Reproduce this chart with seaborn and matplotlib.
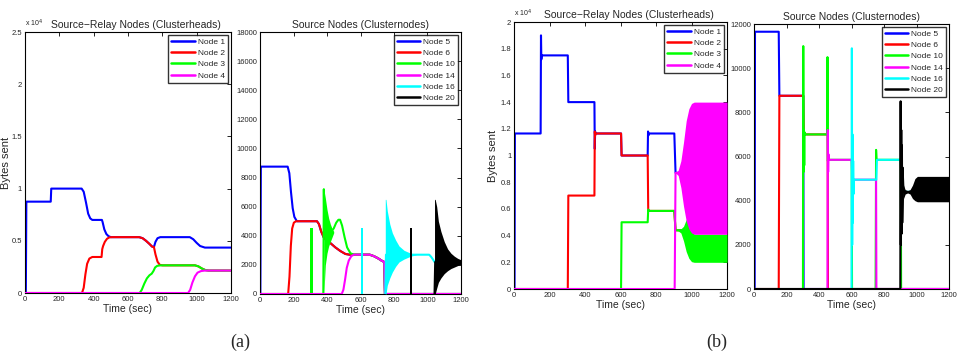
import matplotlib
matplotlib.use('Agg')
import matplotlib.pyplot as plt
import seaborn as sns
from matplotlib.ticker import FuncFormatter, MultipleLocator

sns.set_theme(style="white")
plt.rcParams['font.family'] = ['Liberation Sans', 'DejaVu Sans']

COLORS = {
    'Node 1': '#0000ff', 'Node 2': '#ff0000', 'Node 3': '#00ff00', 'Node 4': '#ff00ff',
    'Node 5': '#0000ff', 'Node 6': '#ff0000', 'Node 10': '#00ff00', 'Node 14': '#ff00ff',
    'Node 16': '#00ffff', 'Node 20': '#000000',
}
LW = 1.5

# ---------------- (a) left: source-relay nodes ----------------
a1_n1_t = [0, 5, 8, 150, 153, 330, 342, 355, 368, 380, 392, 448, 452, 462, 474, 486, 500, 665, 685, 705, 725, 740, 751, 760, 772, 788, 960, 980, 1000, 1020, 1048, 1200]
a1_n1_v = [0, 0, 8750, 8750, 10000, 10000, 9700, 8700, 7600, 7150, 7000, 7000, 6800, 6100, 5650, 5450, 5350, 5350, 5250, 5000, 4700, 4450, 4400, 4900, 5250, 5350, 5350, 5150, 4800, 4500, 4350, 4350]
a1_n2_t = [0, 332, 342, 352, 362, 375, 392, 446, 450, 455, 465, 478, 492, 505, 665, 685, 705, 725, 740, 751, 760, 772, 785, 800, 990, 1010, 1030, 1050, 1070, 1200]
a1_n2_v = [0, 0, 500, 1800, 2800, 3300, 3450, 3450, 4200, 4500, 4900, 5200, 5330, 5350, 5350, 5250, 5000, 4700, 4450, 4400, 3700, 3000, 2700, 2650, 2650, 2550, 2350, 2200, 2150, 2150]
a1_n3_t = [0, 668, 680, 695, 710, 725, 738, 748, 758, 770, 790, 990, 1010, 1030, 1050, 1070, 1200]
a1_n3_v = [0, 0, 300, 900, 1400, 1700, 1850, 2100, 2450, 2600, 2650, 2650, 2550, 2350, 2200, 2150, 2150]
a1_n4_t = [0, 950, 962, 975, 990, 1005, 1025, 1048, 1200]
a1_n4_v = [0, 0, 300, 1000, 1600, 1950, 2100, 2150, 2150]

# ---------------- (a) right: source nodes ----------------
a2_n5_t = [0, 2, 5, 165, 175, 185, 195, 205, 220, 340, 352, 365, 380, 395, 420, 450, 480, 510, 535, 655, 680, 705, 725, 742, 746, 1200]
a2_n5_v = [0, 0, 8750, 8750, 8300, 7000, 5900, 5300, 5000, 5000, 4800, 4300, 3900, 3700, 3500, 3200, 2950, 2750, 2700, 2700, 2600, 2450, 2300, 2200, 0, 0]
a2_n6_t = [0, 168, 176, 184, 192, 202, 215, 340, 352, 365, 380, 395, 420, 450, 480, 510, 535, 655, 680, 705, 725, 742, 746, 1200]
a2_n6_v = [0, 0, 1200, 3300, 4500, 4900, 5000, 5000, 4800, 4300, 3900, 3700, 3500, 3200, 2950, 2750, 2700, 2700, 2600, 2450, 2300, 2200, 0, 0]
a2_n10_t = [0, 378, 381, 384, 425, 440, 455, 468, 478, 490, 505, 520, 540, 560, 655, 680, 705, 725, 742, 746, 1200]
a2_n10_v = [0, 0, 7200, 4000, 4300, 4500, 4900, 5100, 5100, 4700, 3900, 3200, 2800, 2700, 2700, 2600, 2450, 2300, 2200, 0, 0]
a2_n10_spike_t = [299, 315]
a2_n10_spike_hi = [4500, 4500]
a2_n10_osc_t = [381, 390, 400, 410, 420, 430, 440]
a2_n10_osc_hi = [7200, 6600, 5800, 5200, 4800, 4500, 4300]
a2_n10_osc_lo = [0, 2000, 2800, 3300, 3600, 3900, 4200]
a2_n14_t = [0, 488, 498, 508, 518, 530, 545, 560, 655, 680, 705, 725, 742, 746, 1200]
a2_n14_v = [0, 0, 300, 1000, 1800, 2300, 2600, 2700, 2700, 2600, 2450, 2300, 2200, 0, 0]
a2_n16_t = [748, 752, 935, 1010, 1022, 1034, 1042, 1046, 1200]
a2_n16_v = [0, 2700, 2700, 2700, 2550, 2350, 2200, 2200, 2200]
a2_n16_spike_t = [601, 615]
a2_n16_spike_hi = [4500, 4500]
a2_n16_osc_t = [748, 752, 760, 775, 790, 810, 830, 860, 900, 935]
a2_n16_osc_hi = [6500, 6500, 5700, 4800, 4200, 3700, 3300, 3000, 2800, 2700]
a2_n16_osc_lo = [0, 0, 600, 1100, 1500, 1900, 2200, 2400, 2600, 2700]
a2_n20_t = [1042, 1046, 1200]
a2_n20_v = [0, 2200, 2200]
a2_n20_spike_t = [896, 910]
a2_n20_spike_hi = [4500, 4500]
a2_n20_osc_t = [1042, 1046, 1055, 1065, 1080, 1100, 1120, 1140, 1160, 1180, 1200]
a2_n20_osc_hi = [6500, 6500, 6000, 5000, 4300, 3600, 3100, 2800, 2600, 2450, 2350]
a2_n20_osc_lo = [0, 0, 400, 800, 1100, 1400, 1600, 1750, 1850, 1950, 2050]

# ---------------- (b) left: source-relay nodes ----------------
b1_n1_t = [0, 3, 5, 150, 152, 154, 156, 303, 306, 453, 455, 457, 459, 603, 606, 753, 755, 757, 759, 903, 910, 1200]
b1_n1_v = [0, 0, 11650, 11650, 19000, 17200, 17500, 17500, 14000, 14000, 10500, 11800, 11650, 11650, 10000, 10000, 11800, 11500, 11650, 11650, 8700, 8700]
b1_n2_t = [0, 303, 306, 453, 455, 457, 459, 603, 606, 753, 756, 758, 760, 903, 910, 1200]
b1_n2_v = [0, 0, 7000, 7000, 11800, 11500, 11650, 11650, 10000, 10000, 6000, 5900, 5850, 5850, 4400, 4400]
b1_n3_t = [0, 603, 606, 753, 756, 758, 760, 903, 910, 1200]
b1_n3_v = [0, 0, 5000, 5000, 5950, 5900, 5850, 5850, 4400, 4400]
b1_n3_osc_t = [910, 925, 940, 955, 970, 985, 1000, 1015, 1200]
b1_n3_osc_hi = [4400, 4500, 4500, 4700, 5200, 5500, 4800, 4100, 4100]
b1_n3_osc_lo = [4400, 4350, 4200, 3600, 2800, 2300, 2050, 2000, 2000]
b1_n4_t = [0, 905, 910, 1200]
b1_n4_v = [0, 0, 8700, 8700]
b1_n4_osc_t = [910, 925, 940, 955, 970, 985, 1000, 1015, 1200]
b1_n4_osc_hi = [8700, 8900, 9600, 11000, 12600, 13500, 13900, 14000, 14000]
b1_n4_osc_lo = [8700, 8500, 7600, 6200, 5100, 4500, 4200, 4100, 4100]

# ---------------- (b) right: source nodes ----------------
b2_n5_t = [0, 4, 6, 152, 156, 303, 305, 1200]
b2_n5_v = [0, 0, 11650, 11650, 8750, 8750, 0, 0]
b2_n6_t = [0, 152, 156, 303, 306, 309, 453, 455, 1200]
b2_n6_v = [0, 0, 8750, 8750, 7200, 7000, 7000, 0, 0]
b2_n10_t = [0, 301, 303, 305, 307, 309, 311, 313, 450, 452, 454, 456, 601, 603, 748, 751, 754, 903, 905, 1200]
b2_n10_v = [0, 0, 11000, 5300, 7200, 5600, 7100, 7000, 7000, 10500, 5800, 5850, 5850, 0, 0, 6300, 5850, 5850, 0, 0]
b2_n14_t = [0, 452, 454, 456, 458, 460, 601, 605, 751, 753, 1200]
b2_n14_v = [0, 0, 7200, 5300, 6100, 5850, 5850, 4950, 4950, 0, 0]
b2_n16_t = [600, 602, 604, 606, 608, 610, 612, 614, 753, 756, 903, 910, 1200]
b2_n16_v = [0, 10900, 2000, 7000, 3000, 5800, 4300, 4950, 4950, 5850, 5850, 4400, 4400]
b2_n20_t = [0, 900, 902, 904, 906, 908, 910, 912, 914, 920, 1200]
b2_n20_v = [0, 0, 8500, 2000, 7200, 2500, 6500, 3000, 5500, 4400, 4400]
b2_n20_osc_t = [914, 920, 930, 945, 960, 975, 990, 1005, 1200]
b2_n20_osc_hi = [5500, 4700, 4500, 4450, 4500, 4700, 5000, 5100, 5100]
b2_n20_osc_lo = [3000, 4100, 4300, 4350, 4300, 4100, 4000, 3950, 3950]

panels = [
    dict(rect=[0.0261, 0.1723, 0.2153, 0.7373], ymax=25000, ystep=5000, sci=True, ylab_x=-0.068,
         title='Source\u2212Relay Nodes (Clusterheads)', title_x=0.54,
         series=[('Node 1', a1_n1_t, a1_n1_v, []),
                 ('Node 2', a1_n2_t, a1_n2_v, []),
                 ('Node 3', a1_n3_t, a1_n3_v, []),
                 ('Node 4', a1_n4_t, a1_n4_v, [])]),
    dict(rect=[0.2717, 0.1695, 0.2100, 0.7401], ymax=18000, ystep=2000, sci=False,
         title='Source Nodes (Clusternodes)', title_x=0.5,
         series=[('Node 5', a2_n5_t, a2_n5_v, []),
                 ('Node 6', a2_n6_t, a2_n6_v, []),
                 ('Node 10', a2_n10_t, a2_n10_v,
                  [(a2_n10_spike_t, [0, 0], a2_n10_spike_hi),
                   (a2_n10_osc_t, a2_n10_osc_lo, a2_n10_osc_hi)]),
                 ('Node 14', a2_n14_t, a2_n14_v, []),
                 ('Node 16', a2_n16_t, a2_n16_v,
                  [(a2_n16_spike_t, [0, 0], a2_n16_spike_hi),
                   (a2_n16_osc_t, a2_n16_osc_lo, a2_n16_osc_hi)]),
                 ('Node 20', a2_n20_t, a2_n20_v,
                  [(a2_n20_spike_t, [0, 0], a2_n20_spike_hi),
                   (a2_n20_osc_t, a2_n20_osc_lo, a2_n20_osc_hi)])]),
    dict(rect=[0.5371, 0.1836, 0.2226, 0.7542], ymax=20000, ystep=2000, sci=True, ylab_x=-0.075,
         title='Source\u2212Relay Nodes (Clusterheads)', title_x=0.54,
         series=[('Node 1', b1_n1_t, b1_n1_v, []),
                 ('Node 2', b1_n2_t, b1_n2_v, []),
                 ('Node 3', b1_n3_t, b1_n3_v, [(b1_n3_osc_t, b1_n3_osc_lo, b1_n3_osc_hi)]),
                 ('Node 4', b1_n4_t, b1_n4_v, [(b1_n4_osc_t, b1_n4_osc_lo, b1_n4_osc_hi)])]),
    dict(rect=[0.7879, 0.1836, 0.2038, 0.7486], ymax=12000, ystep=2000, sci=False,
         title='Source Nodes (Clusternodes)', title_x=0.5,
         series=[('Node 5', b2_n5_t, b2_n5_v, []),
                 ('Node 6', b2_n6_t, b2_n6_v, []),
                 ('Node 10', b2_n10_t, b2_n10_v, []),
                 ('Node 14', b2_n14_t, b2_n14_v, []),
                 ('Node 16', b2_n16_t, b2_n16_v, []),
                 ('Node 20', b2_n20_t, b2_n20_v, [(b2_n20_osc_t, b2_n20_osc_lo, b2_n20_osc_hi)])]),
]

fig = plt.figure(figsize=(9.57, 3.54), dpi=100)

for p in panels:
    ax = fig.add_axes(p['rect'])
    for i, (name, t, v, bands) in enumerate(p['series']):
        z = 2 + i
        sns.lineplot(x=t, y=v, ax=ax, color=COLORS[name], lw=LW, estimator=None,
                     sort=False, label=name, zorder=z)
        for bt, lo, hi in bands:
            ax.fill_between(bt, lo, hi, color=COLORS[name], lw=0, zorder=z)

    ax.set_xlim(0, 1200)
    ax.set_ylim(0, p['ymax'])
    ax.xaxis.set_major_locator(MultipleLocator(200))
    ax.yaxis.set_major_locator(MultipleLocator(p['ystep']))
    if p['sci']:
        ax.yaxis.set_major_formatter(FuncFormatter(lambda v, pos: f"{v / 1e4:g}"))
        ax.text(0.0, 1.012, r'x 10$^4$', transform=ax.transAxes, fontsize=5,
                ha='left', va='bottom')
        ax.set_ylabel('Bytes sent', fontsize=8)
        ax.yaxis.set_label_coords(p['ylab_x'], 0.5)
    ax.tick_params(axis='both', which='both', direction='in', top=True, right=True,
                   length=3, width=0.6, labelsize=5.5, pad=2, color='black')
    for s in ax.spines.values():
        s.set_color('black')
        s.set_linewidth(0.8)
    ax.set_xlabel('Time (sec)', fontsize=7.5, labelpad=1)
    ax.set_title(p['title'], fontsize=7.5, x=p['title_x'], pad=3)
    leg = ax.legend(loc='upper right', fontsize=6, frameon=True, fancybox=False,
                    handlelength=2.8, labelspacing=0.42, borderpad=0.35,
                    handletextpad=0.4, borderaxespad=0.35)
    leg.get_frame().set_edgecolor('black')
    leg.get_frame().set_linewidth(1.0)
    for h in leg.get_lines():
        h.set_linewidth(1.8)

fig.text(0.251, 0.02, '(a)', fontsize=13, ha='center', family='Liberation Serif')
fig.text(0.749, 0.02, '(b)', fontsize=13, ha='center', family='Liberation Serif')

fig.savefig('out.png', dpi=100)
